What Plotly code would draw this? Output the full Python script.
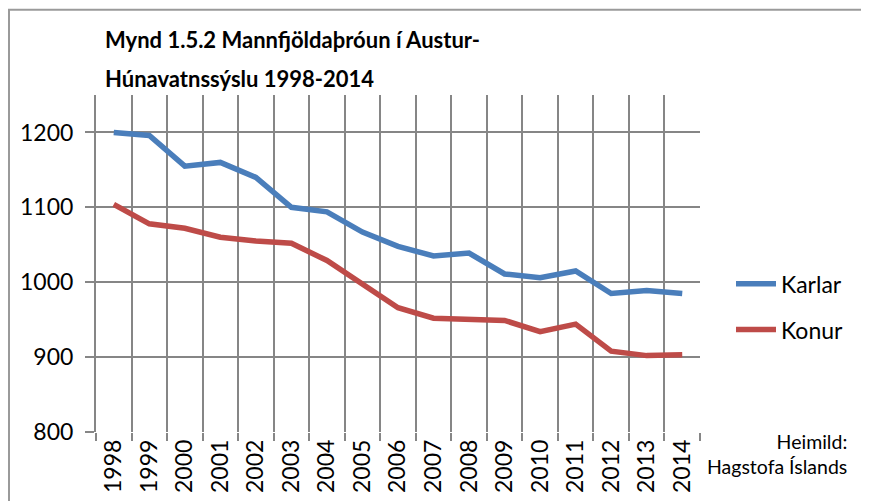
import plotly.graph_objects as go

years = [str(y) for y in range(1998, 2015)]
karlar = [1200, 1196, 1155, 1160, 1140, 1100, 1094, 1067, 1048, 1035, 1039, 1011, 1006, 1015, 985, 989, 985]
konur = [1104, 1078, 1072, 1060, 1055, 1052, 1029, 997, 966, 952, 951, 949, 934, 944, 908, 902, 903]
y_ticks = [800, 900, 1000, 1100, 1200]

title_lines = ["Mynd 1.5.2 Mannfjöldaþróun í Austur-", "Húnavatnssýslu 1998-2014"]
source_text = "Heimild:<br>Hagstofa Íslands"

FONT = "Lato"
GRID = "#868686"

fig = go.Figure()
fig.add_trace(go.Scatter(x=years, y=karlar, name="Karlar", mode="lines",
                         line=dict(color="#4A7EBB", width=5.5), legendgroup="a"))
fig.add_trace(go.Scatter(x=years, y=konur, name="Konur", mode="lines",
                         line=dict(color="#BE4B48", width=5.5), legendgroup="b"))

L, R, T, B = 88, 692, 86.5, 424
W, H = 869, 501
pw, ph = R - L, B - T

def px(x):
    return (x - L) / pw

def py(y):
    return (B - y) / ph

annotations = []
for i, (line, yc) in enumerate(zip(title_lines, [30.5, 69.5])):
    annotations.append(dict(text="<b>" + line + "</b>", xref="paper", yref="paper",
                            x=px(95), y=py(yc), xanchor="left", yanchor="middle",
                            align="left", showarrow=False,
                            font=dict(size=22, family=FONT, color="black")))
annotations.append(dict(text=source_text, xref="paper", yref="paper",
                        x=px(841), y=py(419.5), xanchor="right", yanchor="top",
                        align="right", showarrow=False,
                        font=dict(size=19.5, family=FONT, color="black")))

fig.update_layout(
    width=W, height=H,
    margin=dict(l=L, r=W - R, t=T, b=H - B, autoexpand=False),
    paper_bgcolor="white", plot_bgcolor="white",
    font=dict(family=FONT, color="black", size=22),
    showlegend=True,
    legend=dict(x=px(723), y=py(254), xanchor="left", yanchor="top",
                font=dict(size=23, family=FONT), tracegroupgap=13,
                bgcolor="rgba(0,0,0,0)", itemwidth=40),
    xaxis=dict(type="category", range=[-0.5, 16.5], tickson="boundaries",
               showgrid=True, gridcolor=GRID, gridwidth=2,
               ticks="outside", ticklen=8, tickcolor=GRID, tickwidth=2,
               tickangle=-90, tickfont=dict(size=23, family=FONT),
               ticklabelstandoff=2,
               showline=False, zeroline=False, fixedrange=True),
    yaxis=dict(range=[800, 1250], tickvals=y_ticks,
               showgrid=True, gridcolor=GRID, gridwidth=2,
               ticks="outside", ticklen=9, tickcolor=GRID, tickwidth=2,
               ticklabelstandoff=7,
               tickfont=dict(size=23, family=FONT),
               showline=True, linecolor=GRID, linewidth=2,
               zeroline=False, fixedrange=True),
    shapes=[dict(type="rect", xref="paper", yref="paper",
                 x0=px(1), y0=py(520), x1=px(900), y1=py(1),
                 line=dict(color="#9a9a9a", width=2), fillcolor="rgba(0,0,0,0)",
                 layer="below")],
    annotations=annotations,
)

fig.write_html("out.html")
